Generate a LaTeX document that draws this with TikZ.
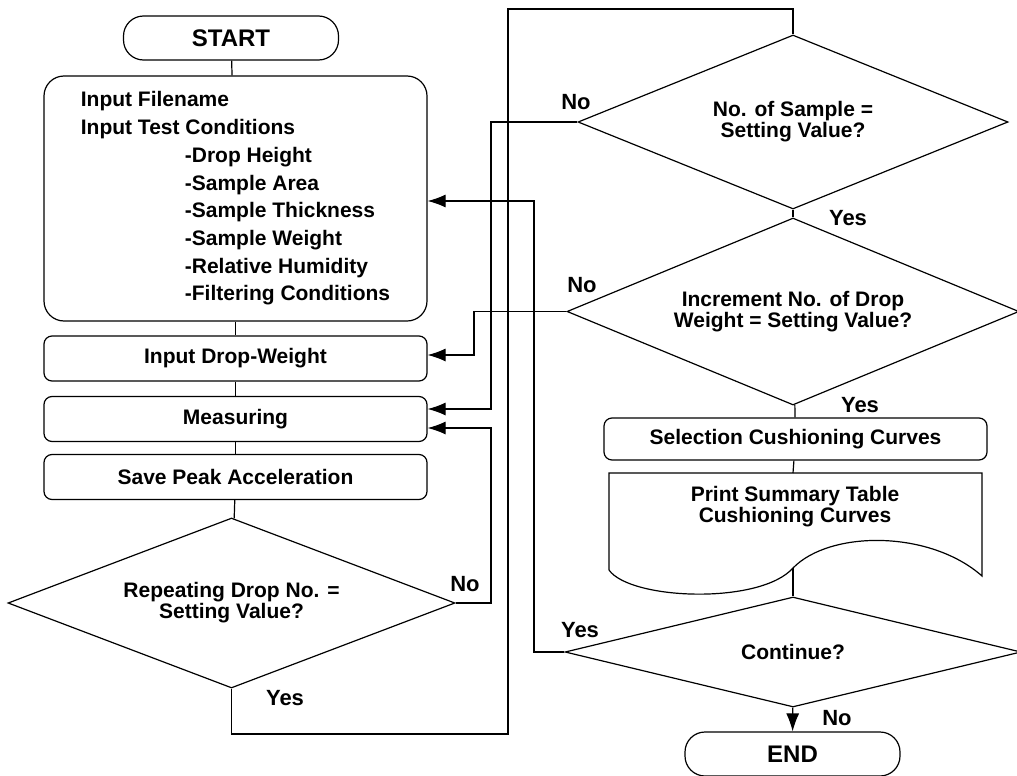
\documentclass[tikz,border=0pt]{standalone}
\usepackage{fontspec}
\setmainfont{Liberation Sans}
\usetikzlibrary{shapes.geometric,arrows.meta}

\begin{document}
\begin{tikzpicture}[x=0.5pt,y=-0.5pt,line width=0.6pt,
  every node/.style={font=\fontsize{10.5}{10.5}\selectfont\bfseries},
  terminal/.style={draw,rounded corners=10pt,minimum width=107.5pt,minimum height=22pt,font=\fontsize{12}{13}\selectfont\bfseries},
  procbox/.style={draw,rounded corners=4pt,minimum width=191.5pt,minimum height=22.5pt},
  decision/.style={draw,diamond,aspect=2.6,inner sep=0pt,align=center},
  flow/.style={-{Latex[length=9pt,width=6.5pt]}},
  answer/.style={inner sep=0pt,font=\fontsize{11}{12}\selectfont\bfseries}]
  \useasboundingbox (0,0) rectangle (1017,776);

  % Left column: input and measuring steps
  \node[terminal] (start) at (231,38) {START};
  \node[procbox,rounded corners=10pt,minimum height=122.5pt,align=left,
        font=\fontsize{10.5}{13.85}\selectfont\bfseries] (input) at (235.5,198.5)
    {Input Filename\\Input Test Conditions\\
     \hspace*{52pt}-Drop Height\\\hspace*{52pt}-Sample Area\\
     \hspace*{52pt}-Sample Thickness\\\hspace*{52pt}-Sample Weight\\
     \hspace*{52pt}-Relative Humidity\\\hspace*{52pt}-Filtering Conditions};
  \node[procbox] (dropw) at (235.5,358.5) {Input Drop-Weight};
  \node[procbox] (meas) at (235.5,419) {Measuring};
  \node[procbox] (save) at (235.5,477) {Save Peak Acceleration};
  \node[decision,minimum width=223.5pt,minimum height=85pt] (rep) at (231.5,603)
    {Repeating Drop No. =\\Setting Value?};

  % Right column: decisions and output
  \node[decision,minimum width=215pt,minimum height=87pt] (samp) at (793,122)
    {No. of Sample =\\Setting Value?};
  \node[decision,minimum width=226pt,minimum height=93.5pt] (incr) at (793,311.5)
    {Increment No. of Drop\\Weight = Setting Value?};
  \node[procbox,minimum height=21pt] (sel) at (795.5,439) {Selection Cushioning Curves};
  \coordinate (doctop) at (793,473);
  \coordinate (docbot) at (793,568);
  \draw (609,570) -- (609,473) -- (982,473) -- (982,576)
    .. controls (930,530) and (830,530) .. (docbot)
    .. controls (760,605) and (630,600) .. (609,570);
  \node[align=center] (print) at (795,507) {Print Summary Table\\Cushioning Curves};
  \node[decision,minimum width=228pt,minimum height=55pt] (cont) at (793,652) {Continue?};
  \node[terminal] (end) at (792.5,754) {END};

  % Straight connections
  \draw (start) -- (input);
  \draw (input) -- (dropw);
  \draw (dropw) -- (meas);
  \draw (meas) -- (save);
  \draw (save) -- (rep);
  \draw (samp) -- (incr);
  \draw (incr) -- (sel);
  \draw (sel) -- (doctop);
  \draw (docbot) -- (cont);
  \draw[flow] (cont) -- (end);

  % Loop-back lines
  \coordinate (loopA1) at (508,734);
  \coordinate (loopA2) at (508,9);
  \draw (rep.south) |- (loopA1) -- (loopA2) -| (samp.north);
  \coordinate (loopB) at (491,409);
  \draw[flow] (samp.west) -| (loopB) -- (loopB -| meas.east);
  \coordinate (loopC) at (491,428);
  \draw[flow] (rep.east) -| (loopC) -- (loopC -| meas.east);
  \coordinate (loopD) at (474,355);
  \draw[flow] (incr.west) -| (loopD) -- (loopD -| dropw.east);
  \coordinate (loopE) at (534,201);
  \draw[flow] (cont.west) -| (loopE) -- (loopE -| input.east);

  % Yes / No labels
  \node[answer] (repNo) at (465,584) {No};
  \node[answer] (repYes) at (285,698) {Yes};
  \node[answer] (sampNo) at (576,102) {No};
  \node[answer] (sampYes) at (848,218) {Yes};
  \node[answer] (incrNo) at (582,285) {No};
  \node[answer] (incrYes) at (860,405) {Yes};
  \node[answer] (contYes) at (580,630) {Yes};
  \node[answer] (contNo) at (837,718) {No};
\end{tikzpicture}
\end{document}
